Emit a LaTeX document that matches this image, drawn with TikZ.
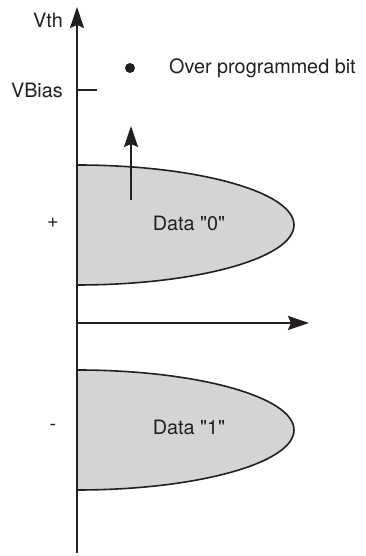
\documentclass[tikz,border=0pt]{standalone}
\usepackage{fontspec}
\setmainfont{TeX Gyre Heros}
\usepackage{tikz}
\usetikzlibrary{arrows.meta,positioning}

\definecolor{lobegray}{RGB}{211,212,214}
\definecolor{inkgray}{RGB}{35,31,32}

\begin{document}
\begin{tikzpicture}[
    x=1pt, y=1pt,
    axis/.style={draw=inkgray, line width=2pt, -{Stealth[length=21pt,width=14pt,inset=3pt]}},
    lobe/.style={draw=inkgray, line width=1.6pt, fill=lobegray},
    lbl/.style={text=inkgray, font=\fontsize{19.8}{23}\selectfont, inner sep=0pt}
]
    \useasboundingbox (0,0) rectangle (365,556);

    % distributions
    \draw[lobe] (77,391) arc[start angle=90, end angle=-90, x radius=217, y radius=60] -- cycle;
    \draw[lobe] (77,186) arc[start angle=90, end angle=-90, x radius=217, y radius=60] -- cycle;

    % axes
    \coordinate (origin) at (77,3);
    \coordinate (top) at (77,549);
    \coordinate (xstart) at (77,233);
    \coordinate (xend) at (309,233);
    \draw[axis] (origin) -- (top);
    \draw[axis] (xstart) -- (xend);

    \node[lbl, anchor=east] (vth) at (63,536) {Vth};
    \node[lbl, anchor=east] (vbias) at (63,466) {VBias};
    \coordinate (tickl) at (77,466);
    \coordinate (tickr) at (97,466);
    \draw[inkgray, line width=1.2pt] (tickl) -- (tickr);

    % legend
    \node[circle, fill=inkgray, inner sep=0pt, minimum size=10pt] (dot) at (130,488) {};
    \node[lbl, anchor=west] (legend) at (169,488) {Over programmed bit};

    % shift arrow
    \coordinate (shiftfrom) at (131,356);
    \coordinate (shiftto) at (131,430);
    \draw[axis] (shiftfrom) -- (shiftto);

    \node[lbl] (plus) at (53,333) {+};
    \node[lbl] (minus) at (53,129) {-};
    \node[lbl] (data0) at (189,333) {Data \textquotedbl0\textquotedbl};
    \node[lbl] (data1) at (189,129) {Data \textquotedbl1\textquotedbl};
\end{tikzpicture}
\end{document}
